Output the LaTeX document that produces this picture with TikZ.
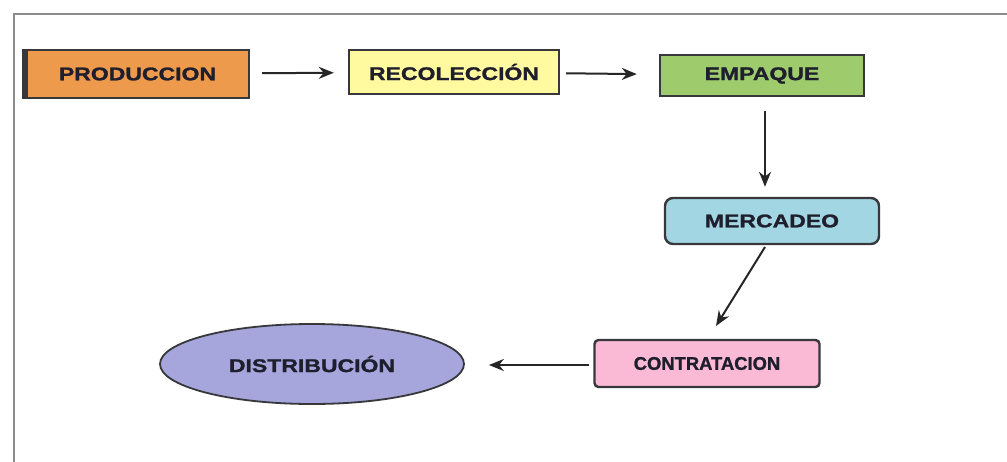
\documentclass[tikz,border=0pt]{standalone}
\usepackage{fontspec}
\newfontfamily\boxfont{Liberation Sans}[FakeStretch=1.25,BoldFeatures={FakeBold=1.2}]
\newfontfamily\boxfontnarrow{Liberation Sans}[BoldFeatures={FakeBold=1.2}]
\usetikzlibrary{arrows.meta,shapes.geometric}
\definecolor{prodorange}{RGB}{238,154,76}
\definecolor{recyellow}{RGB}{255,250,160}
\definecolor{empgreen}{RGB}{158,204,108}
\definecolor{merblue}{RGB}{162,214,226}
\definecolor{conpink}{RGB}{250,186,214}
\definecolor{dislavender}{RGB}{166,166,220}
\definecolor{edgegray}{RGB}{55,55,60}
\definecolor{textdark}{RGB}{30,30,45}
\tikzset{%
  stage/.style={draw=edgegray,line width=1.2pt,inner sep=0pt,
    font=\boxfont\bfseries\fontsize{9.2}{10}\selectfont,text=textdark},
  flow/.style={-{Stealth[length=7.5pt,width=6pt]},line width=1pt,draw=black!85},
}
\begin{document}
\begin{tikzpicture}[x=0.5pt,y=-0.5pt]
  \useasboundingbox (0,0) rectangle (1007,461);
  % outer frame
  \draw[black!45,line width=0.6pt] (14,14) rectangle (1030,480);
  % stages
  \node[stage,fill=prodorange,minimum width=111.5pt,minimum height=24pt] (prod) at (137.5,74) {PRODUCCION};
  \draw[edgegray,line width=2.8pt] (prod.north west) -- (prod.south west);
  \node[stage,fill=recyellow,minimum width=105pt,minimum height=22pt] (rec) at (454,72) {RECOLECCIÓN};
  \node[stage,fill=empgreen,minimum width=102pt,minimum height=20.5pt] (emp) at (762,75.5) {EMPAQUE};
  \node[stage,fill=merblue,rounded corners=4pt,minimum width=107pt,minimum height=23pt] (mer) at (772,221) {MERCADEO};
  \node[stage,fill=conpink,rounded corners=2pt,minimum width=112.5pt,minimum height=23.5pt,
    font=\boxfontnarrow\bfseries\fontsize{9.2}{10}\selectfont] (con) at (707,363.5) {CONTRATACION};
  \node[stage,ellipse,fill=dislavender,line width=0.9pt,minimum width=152pt,minimum height=40pt] (dis) at (312,364) {DISTRIBUCIÓN};
  % connectors
  \draw[flow,shorten <=6pt,shorten >=7pt] (prod) -- (rec);
  \draw[flow,shorten <=3pt,shorten >=11pt] (rec) -- (emp);
  \draw[flow,shorten <=7pt,shorten >=5pt] (emp.south -| 765,0) -- (mer.north -| 765,0);
  \coordinate (merout) at (765,247);
  \coordinate (conin) at (716,326);
  \draw[flow] (merout) -- (conin);
  \draw[flow,shorten <=2pt,shorten >=12pt] (con.west |- 0,365) -- (dis.east |- 0,365);
\end{tikzpicture}
\end{document}
